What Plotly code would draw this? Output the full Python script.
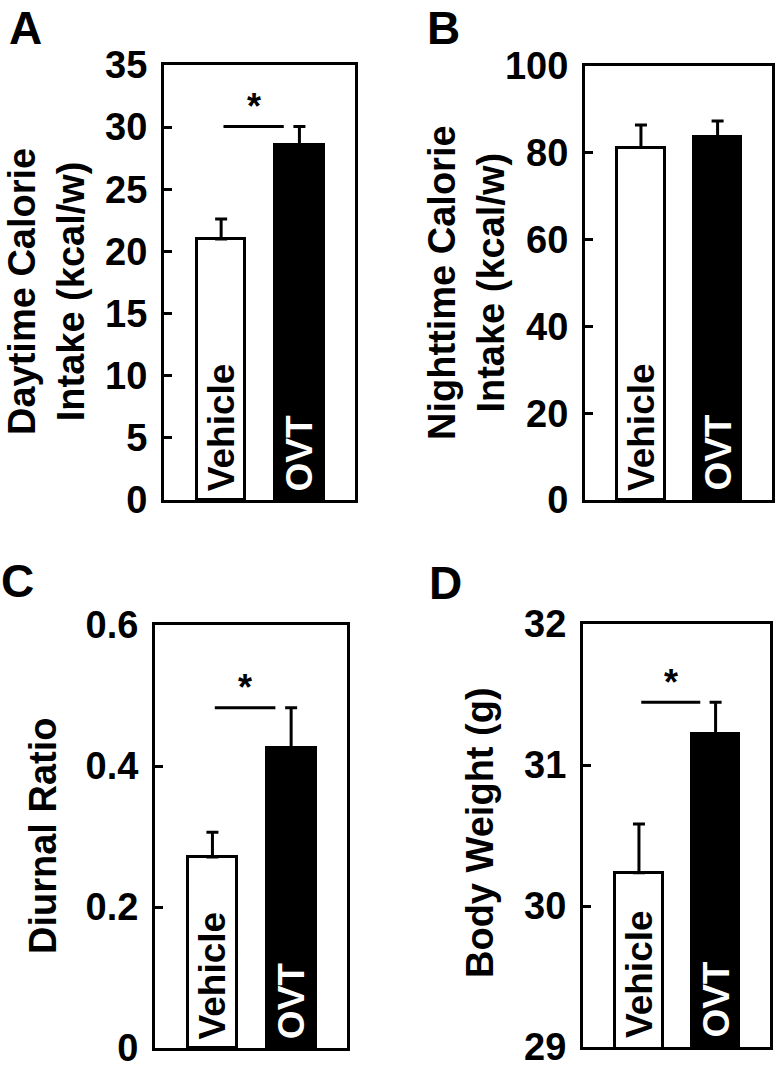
import plotly.graph_objects as go
from plotly.subplots import make_subplots

W, H = 778, 1079
FONT = 'Arial, Liberation Sans, sans-serif'

groups = ['Vehicle', 'OVT']

# panel A: daytime calorie intake
day_mean = [21.0, 28.55]
day_sem = [1.6, 1.5]
# panel B: nighttime calorie intake
night_mean = [81.2, 83.7]
night_sem = [5.2, 3.6]
# panel C: diurnal ratio
ratio_mean = [0.271, 0.4255]
ratio_sem = [0.035, 0.057]
# panel D: body weight
bw_mean = [30.236, 31.22]
bw_sem = [0.345, 0.225]

ranges = [[0, 35], [0, 100], [0, 0.6], [29, 32]]
tick_vals = [[0, 5, 10, 15, 20, 25, 30, 35],
             [0, 20, 40, 60, 80, 100],
             [0, 0.2, 0.4, 0.6],
             [29, 30, 31, 32]]
tick_text = [['0', '5', '10', '15', '20', '25', '30', '35'],
             ['0', '20', '40', '60', '80', '100'],
             ['0', '0.2', '0.4', '0.6'],
             ['29', '30', '31', '32']]
titles = ['Daytime Calorie<br>Intake (kcal/w)',
          'Nighttime Calorie<br>Intake (kcal/w)',
          'Diurnal Ratio',
          'Body Weight (g)']
letters = ['A', 'B', 'C', 'D']
significant = [True, False, True, True]

means = [day_mean, night_mean, ratio_mean, bw_mean]
sems = [day_sem, night_sem, ratio_sem, bw_sem]

# plot boxes in pixels: (left, right, top, bottom)
boxes = [(164, 355, 65, 500), (585, 772, 66, 500),
         (155, 347, 625, 1048), (583, 770, 624, 1047)]
title_pos = [(46, 292), (466, 283), (43, 836), (480, 833)]
# panel letters (center x, top y of the text box)
letter_pos = [(26, 0), (443, 0), (17, 553), (445, 555)]


def px(x):
    return x / W


def py(y):
    return 1 - y / H


fig = make_subplots(rows=2, cols=2)

for i in range(4):
    r, c = i // 2 + 1, i % 2 + 1
    fig.add_trace(go.Bar(
        x=[0, 1], y=means[i], width=0.62,
        marker=dict(color=['white', 'black'], line=dict(color='black', width=3)),
        error_y=dict(type='data', symmetric=False, array=sems[i],
                     arrayminus=[0, 0], color='black', thickness=3, width=6),
        showlegend=False, hoverinfo='skip',
    ), row=r, col=c)

    xa = 'xaxis' if i == 0 else f'xaxis{i + 1}'
    ya = 'yaxis' if i == 0 else f'yaxis{i + 1}'
    left, right, top, bottom = boxes[i]
    fig.update_layout({
        xa: dict(domain=[px(left), px(right)], range=[-0.73, 1.71],
                 showline=True, mirror=True, linecolor='black', linewidth=3,
                 showticklabels=False, ticks='', showgrid=False, zeroline=False,
                 automargin=False),
        ya: dict(domain=[py(bottom), py(top)], range=ranges[i],
                 tickvals=tick_vals[i], ticktext=tick_text[i],
                 showline=True, mirror=True, linecolor='black', linewidth=3,
                 ticks='inside', ticklen=8, tickwidth=3, tickcolor='black',
                 ticklabelstandoff=6, automargin=False,
                 tickfont=dict(family=FONT, size=38, color='black', weight='bold'),
                 showgrid=False, zeroline=False),
    })

    xref = 'x' if i == 0 else f'x{i + 1}'
    yref = 'y' if i == 0 else f'y{i + 1}'
    base = ranges[i][0]

    # group names written inside bars
    fig.add_annotation(x=0, y=base, xref=xref, yref=yref, text='Vehicle',
                       textangle=-90, showarrow=False, xanchor='center',
                       yanchor='bottom', yshift=7,
                       font=dict(family=FONT, size=37, color='black', weight='bold'))
    fig.add_annotation(x=1, y=base, xref=xref, yref=yref, text='OVT',
                       textangle=-90, showarrow=False, xanchor='center',
                       yanchor='bottom', yshift=7,
                       font=dict(family=FONT, size=37, color='white', weight='bold'))

    if significant[i]:
        sig_y = means[i][1] + sems[i][1]
        fig.add_shape(type='line', xref=xref, yref=yref, x0=0.03, x1=0.8,
                      y0=sig_y, y1=sig_y, line=dict(color='black', width=3))
        fig.add_annotation(x=0.42, y=sig_y, xref=xref, yref=yref, text='<b>*</b>',
                           showarrow=False, xanchor='center', yanchor='middle',
                           yshift=20, font=dict(family=FONT, size=36, color='black'))

    tx, ty = title_pos[i]
    fig.add_annotation(x=px(tx), y=py(ty), xref='paper', yref='paper',
                       text=f'<b>{titles[i]}</b>', textangle=-90, showarrow=False,
                       xanchor='center', yanchor='middle',
                       font=dict(family=FONT, size=38, color='black'))
    lx, ly = letter_pos[i]
    fig.add_annotation(x=px(lx), y=py(ly), xref='paper', yref='paper',
                       text=f'<b>{letters[i]}</b>', showarrow=False,
                       xanchor='center', yanchor='top',
                       font=dict(family=FONT, size=46, color='black'))

fig.update_layout(
    template='none',
    width=W, height=H,
    margin=dict(l=0, r=0, t=0, b=0, pad=0),
    paper_bgcolor='white', plot_bgcolor='white',
    showlegend=False, bargap=0,
)

fig.write_html('out.html', config={'displayModeBar': False},
               post_script="document.body.style.margin='0';")
